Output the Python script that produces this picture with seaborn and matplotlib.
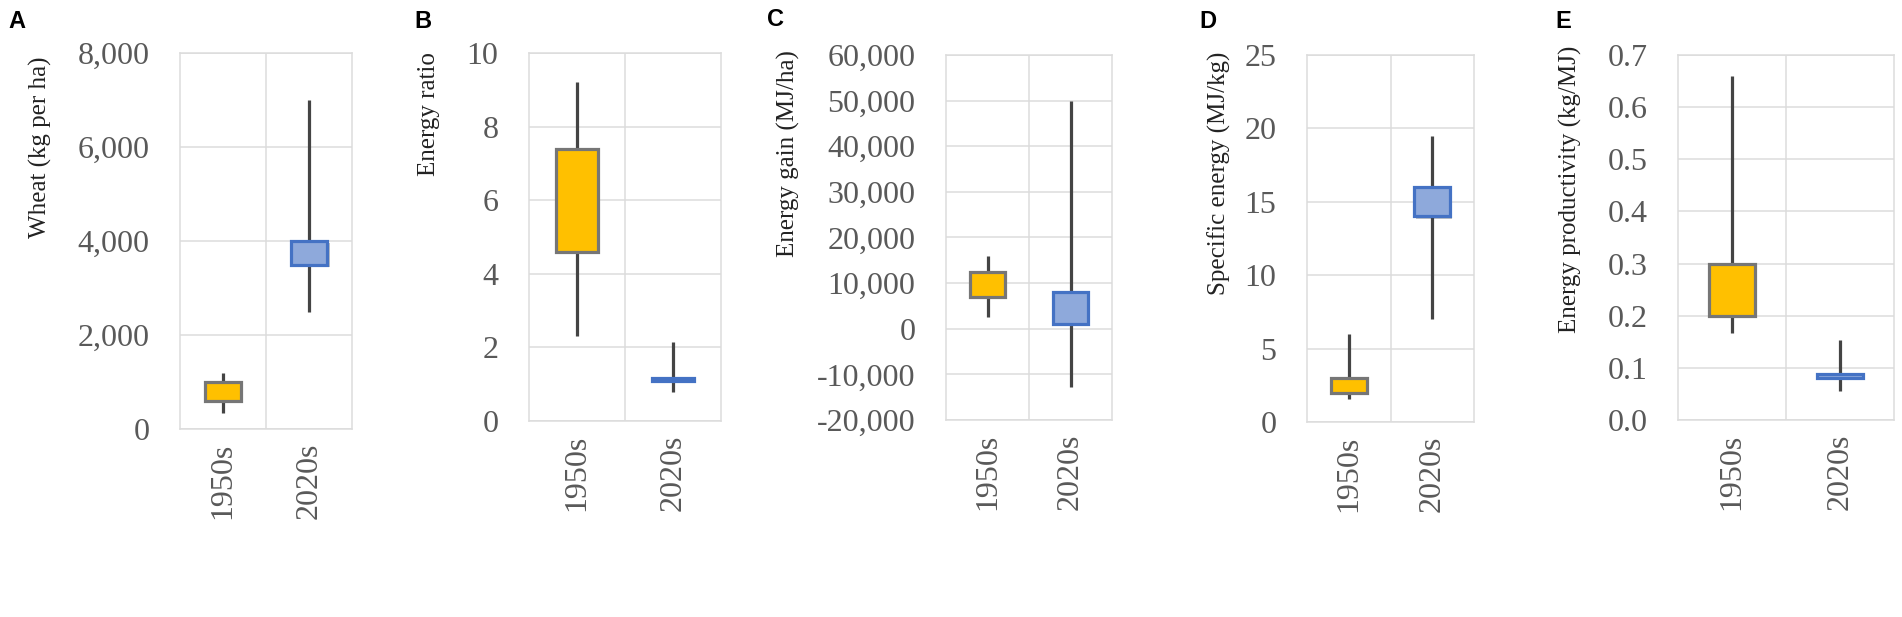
import numpy as np
import pandas as pd
import matplotlib
matplotlib.use("Agg")
import matplotlib.pyplot as plt
import matplotlib.ticker as mticker
from matplotlib.patheffects import SimplePatchShadow, Normal
import seaborn as sns

# ---------------- data (min, q1, q3, max per period) ----------------
periods = ["1950s", "2020s"]
panel_letters = ["A", "B", "C", "D", "E"]
ylabels = ["Wheat (kg per ha)", "Energy ratio", "Energy gain (MJ/ha)",
           "Specific energy (MJ/kg)", "Energy productivity (kg/MJ)"]

wheat_1950s = [330, 600, 1000, 1200]
wheat_2020s = [2500, 3500, 4000, 7000]
ratio_1950s = [2.3, 4.6, 7.4, 9.2]
ratio_2020s = [0.8, 1.1, 1.18, 2.15]
gain_1950s = [2600, 7000, 12500, 16000]
gain_2020s = [-12700, 1000, 8000, 50000]
spec_1950s = [1.6, 2.0, 3.0, 6.0]
spec_2020s = [7.0, 14.0, 16.0, 19.5]
prod_1950s = [0.167, 0.20, 0.30, 0.66]
prod_2020s = [0.056, 0.080, 0.088, 0.154]

yticks_A = [0, 2000, 4000, 6000, 8000]
yticks_B = [0, 2, 4, 6, 8, 10]
yticks_C = [-20000, -10000, 0, 10000, 20000, 30000, 40000, 50000, 60000]
yticks_D = [0, 5, 10, 15, 20, 25]
yticks_E = [0.0, 0.1, 0.2, 0.3, 0.4, 0.5, 0.6, 0.7]

panels = [
    (wheat_1950s, wheat_2020s, yticks_A, "{x:,.0f}"),
    (ratio_1950s, ratio_2020s, yticks_B, "{x:.0f}"),
    (gain_1950s, gain_2020s, yticks_C, "{x:,.0f}"),
    (spec_1950s, spec_2020s, yticks_D, "{x:.0f}"),
    (prod_1950s, prod_2020s, yticks_E, "{x:.1f}"),
]

# ---------------- layout (pixels) ----------------
W, H = 1902, 617
axes_px = [(180, 352, 53, 429), (529, 721, 53, 421), (946, 1112, 55, 420),
           (1307, 1474, 55, 422), (1678, 1894, 55, 420)]
label_px = [(40, 56), (429, 52), (788, 50), (1219, 52), (1570, 46)]
letter_px = [(8, 10), (414, 10), (767, 8), (1199, 10), (1555, 10)]

fill_colors = {"1950s": "#FFC000", "2020s": "#8EA9DB"}
edge_colors = {"1950s": "#767676", "2020s": "#4472C4"}
grid_col = "#DCDCDC"
serif = ["Liberation Serif", "DejaVu Serif"]

sns.set_theme(style="white")
plt.rcParams["font.family"] = serif
plt.rcParams["axes.unicode_minus"] = False

fig = plt.figure(figsize=(W / 100, H / 100), dpi=100)


def to_long(a, b):
    # six points per period: quartiles land exactly on q1 / q3, extremes on min / max
    rows = []
    for per, s in zip(periods, (a, b)):
        mn, q1, q3, mx = s
        for v in (mn, q1, q1, q3, q3, mx):
            rows.append({"period": per, "value": v})
    return pd.DataFrame(rows)


for i, (a, b, yt, fmt) in enumerate(panels):
    l, r, t, btm = axes_px[i]
    ax = fig.add_axes([l / W, (H - btm) / H, (r - l) / W, (btm - t) / H])
    df = to_long(a, b)
    sns.boxplot(data=df, x="period", y="value", hue="period", order=periods,
                hue_order=periods, palette=fill_colors, saturation=1,
                width=0.43, whis=(0, 100), showcaps=False, showfliers=False,
                linecolor="#444444", linewidth=2.2, legend=False, ax=ax,
                medianprops={"visible": False},
                whiskerprops={"linewidth": 2.3, "color": "#444444"})
    for p in ax.patches:
        xc = p.get_path().vertices[:, 0].mean() if hasattr(p, "get_path") else 0
        per = periods[0] if xc < 0.5 else periods[1]
        p.set_edgecolor(edge_colors[per])
        p.set_linewidth(2.3)
        p.set_zorder(3)
        if per == "2020s":
            p.set_path_effects([SimplePatchShadow(offset=(1.5, -1.5), alpha=0.3),
                                Normal()])
    ax.set_xlim(-0.5, 1.5)
    ax.set_ylim(yt[0], yt[-1])
    ax.set_yticks(yt)
    ax.yaxis.set_major_formatter(mticker.StrMethodFormatter(fmt))
    ax.set_axisbelow(True)
    ax.grid(axis="y", color=grid_col, linewidth=1.1)
    ax.axvline(0.5, color=grid_col, linewidth=1.1, zorder=0)
    for sp in ax.spines.values():
        sp.set_color(grid_col)
        sp.set_linewidth(1.1)
    ax.set_xlabel("")
    ax.set_ylabel("")
    ax.tick_params(axis="y", length=0, pad=22, labelsize=23, labelcolor="#595959")
    ax.tick_params(axis="x", length=0, pad=10, labelsize=23, labelcolor="#595959",
                   labelrotation=90)
    for lab in ax.get_xticklabels() + ax.get_yticklabels():
        lab.set_fontfamily(serif)
    for lab in ax.get_xticklabels():
        lab.set_va("top")

    lx, ly = label_px[i]
    fig.text(lx / W, 1 - ly / H, ylabels[i], rotation=90, ha="center", va="top",
             fontsize=18, color="#222222")
    tx, ty = letter_px[i]
    fig.text(tx / W, 1 - ty / H, panel_letters[i], ha="left", va="top",
             fontsize=17, fontweight="bold", color="black",
             family=["Liberation Sans", "DejaVu Sans"])

fig.savefig("out.png", dpi=100, facecolor="white")
